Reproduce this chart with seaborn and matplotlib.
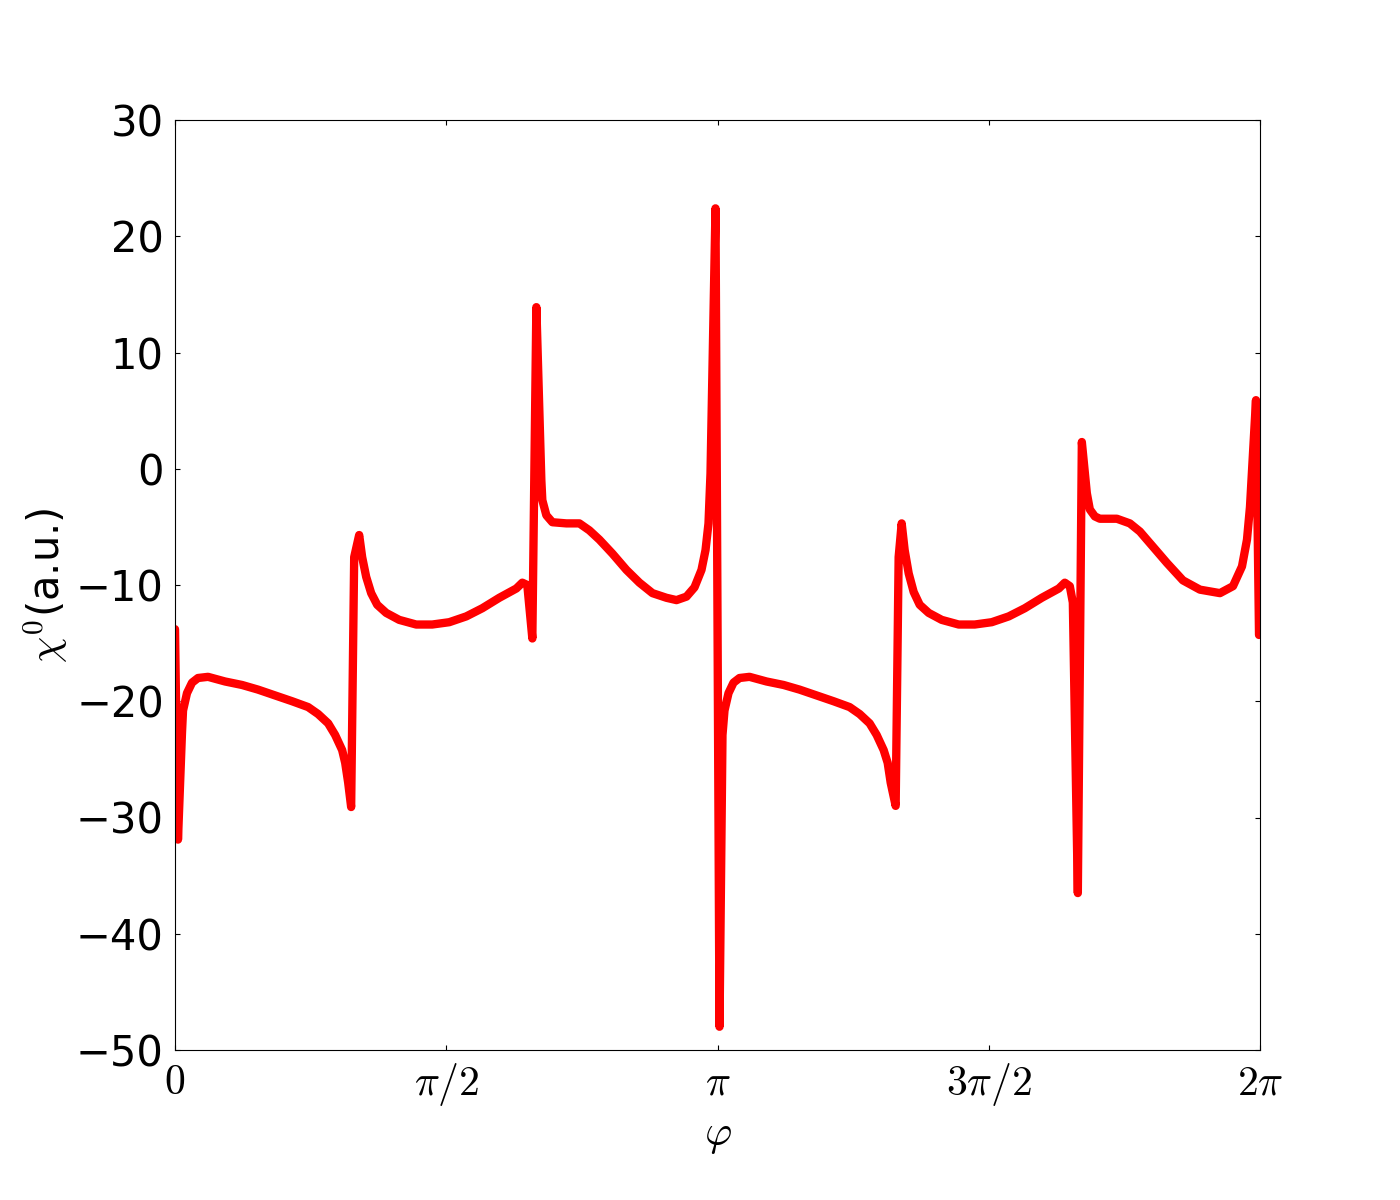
import numpy as np
import pandas as pd
import seaborn as sns
import matplotlib
matplotlib.use("Agg")
import matplotlib.pyplot as plt

### DATA ###
# phi given in units of pi, chi0 in a.u.
phi_pi_1 = [0.0000, 0.0055, 0.0129, 0.0148, 0.0221, 0.0314, 0.0424, 0.0609, 0.0923, 0.1236,
            0.1531, 0.1845, 0.2159, 0.2454, 0.2638, 0.2823, 0.2952, 0.3081, 0.3137, 0.3192,
            0.3247, 0.3303, 0.3395, 0.3450, 0.3524, 0.3616, 0.3727, 0.3893, 0.4133, 0.4446,
            0.4742, 0.5055, 0.5369, 0.5664, 0.5978, 0.6292, 0.6402, 0.6494, 0.6587, 0.6661,
            0.6753, 0.6771, 0.6845, 0.6956, 0.7214, 0.7454, 0.7638, 0.7823, 0.8063, 0.8321,
            0.8561, 0.8801, 0.9059, 0.9244, 0.9428, 0.9576, 0.9705, 0.9779, 0.9834, 0.9871,
            0.9963]
chi_1 = [-13.8, -31.9, -22.7, -20.8, -19.3, -18.4, -18.0, -17.9, -18.3, -18.6,
         -19.0, -19.5, -20.0, -20.5, -21.1, -21.9, -22.9, -24.2, -25.3, -27.0,
         -29.1, -7.6, -5.7, -7.6, -9.3, -10.7, -11.7, -12.4, -13.0, -13.4,
         -13.4, -13.2, -12.7, -12.0, -11.1, -10.3, -9.8, -10.0, -14.6, 13.9,
         -1.0, -2.7, -4.0, -4.6, -4.7, -4.7, -5.3, -6.1, -7.3, -8.7,
         -9.8, -10.7, -11.1, -11.3, -11.0, -10.2, -8.7, -7.0, -4.7, -0.4,
         22.4]

phi_pi_2 = [1.0037, 1.0092, 1.0129, 1.0203, 1.0295, 1.0406, 1.0590, 1.0904, 1.1218, 1.1513,
            1.1827, 1.2140, 1.2435, 1.2620, 1.2804, 1.2934, 1.3063, 1.3137, 1.3192, 1.3284,
            1.3339, 1.3395, 1.3450, 1.3524, 1.3616, 1.3727, 1.3893, 1.4133, 1.4446, 1.4742,
            1.5055, 1.5369, 1.5664, 1.5978, 1.6292, 1.6402, 1.6494, 1.6550, 1.6642, 1.6716,
            1.6808, 1.6863, 1.6956, 1.7048, 1.7362, 1.7601, 1.7786, 1.7915, 1.8100, 1.8284,
            1.8579, 1.8893, 1.9262, 1.9502, 1.9668, 1.9760, 1.9815, 1.9926, 1.9982]
chi_2 = [-48.0, -22.9, -20.8, -19.3, -18.4, -18.0, -17.9, -18.3, -18.6, -19.0,
         -19.5, -20.0, -20.5, -21.1, -21.9, -22.9, -24.2, -25.3, -27.0, -29.0,
         -7.6, -4.7, -7.0, -9.0, -10.6, -11.7, -12.4, -13.0, -13.4, -13.4,
         -13.2, -12.7, -12.0, -11.1, -10.3, -9.8, -10.1, -11.5, -36.5, 2.3,
         -2.1, -3.5, -4.1, -4.3, -4.3, -4.7, -5.4, -6.1, -7.1, -8.1,
         -9.6, -10.4, -10.7, -10.1, -8.4, -6.1, -3.3, 5.9, -14.3]

tick_pos = [0, 0.5, 1, 1.5, 2]
tick_labels = [r'$0$', r'$\pi/2$', r'$\pi$', r'$3\pi/2$', r'$2\pi$']

df = pd.DataFrame({'phi': np.array(phi_pi_1 + phi_pi_2) * np.pi,
                   'chi': chi_1 + chi_2})

### STYLE ###
sns.set_style('white', rc={'xtick.direction': 'in', 'ytick.direction': 'in',
                           'xtick.top': True, 'ytick.right': True,
                           'xtick.bottom': True, 'ytick.left': True,
                           'axes.edgecolor': 'black', 'axes.linewidth': 1.0,
                           'xtick.major.size': 5, 'ytick.major.size': 5,
                           'xtick.color': 'black', 'ytick.color': 'black',
                           'text.color': 'black', 'axes.labelcolor': 'black'})
plt.rcParams['font.family'] = ['DejaVu Sans']
plt.rcParams['mathtext.fontset'] = 'cm'

fig, ax = plt.subplots(figsize=(14, 12), dpi=100)
plt.subplots_adjust(left=0.125, right=0.9, bottom=0.125, top=0.9)

sns.lineplot(data=df, x='phi', y='chi', color='#ff0000', linewidth=6,
             sort=False, estimator=None, ax=ax,
             solid_joinstyle='round', solid_capstyle='round')

ax.set_xlim(0, 2 * np.pi)
ax.set_ylim(-50, 30)
ax.set_xticks(np.array(tick_pos) * np.pi)
ax.set_xticklabels(tick_labels, fontsize=30)
ax.set_yticks(np.arange(-50, 31, 10))
ax.tick_params(axis='y', labelsize=30, pad=8)
ax.tick_params(axis='x', pad=8)
ax.set_xlabel(r'$\varphi$', fontsize=30)
ax.set_ylabel(r'$\chi^0$(a.u.)', fontsize=30)

plt.savefig('out.png', dpi=100)
